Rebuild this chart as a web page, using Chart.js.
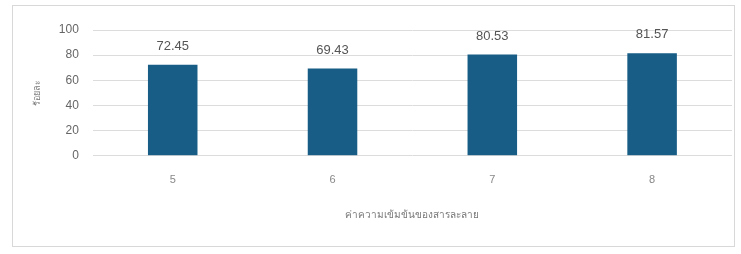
<!DOCTYPE html>
<html><head><meta charset="utf-8">
<script src="https://cdn.jsdelivr.net/npm/chart.js@4.4.0/dist/chart.umd.min.js"></script>
<style>
html,body{margin:0;padding:0;background:#fff;}
#wrap{position:relative;width:741px;height:254px;}
#frame{position:absolute;left:12px;top:5px;width:723px;height:242px;border:1px solid #d8d8d8;box-sizing:border-box;pointer-events:none;}
canvas{position:absolute;left:0;top:0;}
</style></head>
<body>
<div id="wrap"><canvas id="c" width="741" height="254"></canvas><div id="frame"></div></div>
<script>
const categories = ['5', '6', '7', '8'];
const values = [72.45, 69.43, 80.53, 81.57];
const yTicks = [0, 20, 40, 60, 80, 100];
const xTitle = 'ค่าความเข้มข้นของสารละลาย';
const yTitle = 'ร้อยละ';

const labelPlugin = {
  id: 'valLabels',
  afterDatasetsDraw(chart) {
    const ctx = chart.ctx;
    const meta = chart.getDatasetMeta(0);
    ctx.save();
    ctx.fillStyle = '#555';
    ctx.font = '13px "Liberation Sans", Arial, sans-serif';
    ctx.textAlign = 'center';
    ctx.textBaseline = 'bottom';
    meta.data.forEach((el, i) => {
      ctx.fillText(values[i].toFixed(2), el.x, el.y - 12);
    });
    ctx.restore();
  }
};

new Chart(document.getElementById('c'), {
  type: 'bar',
  data: {
    labels: categories,
    datasets: [{
      data: values,
      backgroundColor: '#175d86',
      borderWidth: 0,
      categoryPercentage: 0.31,
      barPercentage: 1.0
    }]
  },
  options: {
    responsive: false,
    animation: false,
    layout: { padding: { left: 32, right: 9, top: 30, bottom: 29 } },
    plugins: { legend: { display: false }, tooltip: { enabled: false } },
    scales: {
      x: {
        grid: { display: false },
        border: { display: false },
        ticks: { color: '#888', font: { size: 11, family: 'Liberation Sans' }, padding: 10 },
        title: { display: true, text: xTitle, color: '#777', font: { size: 10, family: 'Noto Sans' }, padding: { top: 12 } }
      },
      y: {
        min: 0, max: 100,
        afterBuildTicks(axis) { axis.ticks = yTicks.map(v => ({ value: v })); },
        grid: { color: '#dcdcdc', lineWidth: 1, drawTicks: false },
        border: { display: false },
        ticks: { color: '#666', font: { size: 12, family: 'Liberation Sans' }, padding: 14 },
        title: { display: true, text: yTitle, color: '#777', font: { size: 9, family: 'Noto Sans' }, padding: { top: 0, bottom: 2 } }
      }
    }
  },
  plugins: [labelPlugin]
});
</script>
</body></html>
